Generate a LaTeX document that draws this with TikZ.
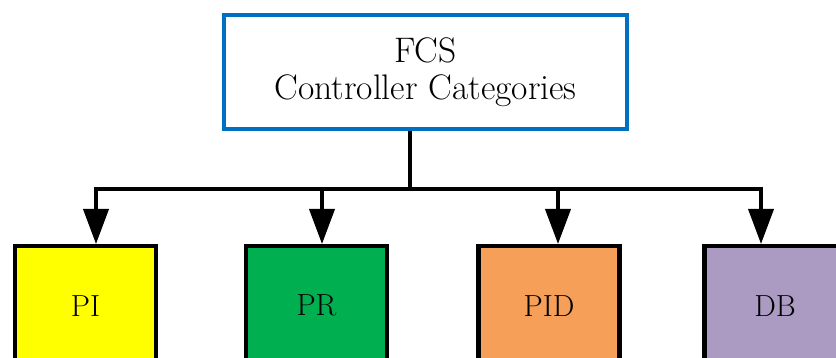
\documentclass[tikz,border=0pt]{standalone}
\usetikzlibrary{arrows.meta}
\definecolor{topblue}{HTML}{0070C0}
\definecolor{piyellow}{HTML}{FFFF00}
\definecolor{prgreen}{HTML}{00B050}
\definecolor{pidorange}{HTML}{F59F58}
\definecolor{dbpurple}{HTML}{AB9BC3}
\begin{document}
\begin{tikzpicture}[x=1pt,y=-1pt,
  topbox/.style={draw=topblue, line width=3.8pt, fill=white, minimum width=403pt, minimum height=114pt, align=center, font=\fontsize{35.5}{37}\selectfont, inner sep=0pt},
  catbox/.style={draw=black, line width=4.2pt, minimum width=141pt, minimum height=119pt, anchor=north, font=\fontsize{30.5}{32}\selectfont, inner sep=0pt},
  link/.style={line width=3.8pt},
  arr/.style={link, -{Triangle[length=35pt,width=25pt]}}]
\useasboundingbox (0,0) rectangle (836,358);
\clip (0,0) rectangle (836,358);
\fill[white] (0,0) rectangle (836,358);

\node[topbox] (top) at (425.5,72) {FCS\\Controller Categories};

\node[catbox, fill=piyellow] (pi) at (85.5,244) {PI};
\node[catbox, fill=prgreen] (pr) at (316.5,244) {PR};
\node[catbox, fill=pidorange] (pid) at (549,244) {PID};
\node[catbox, fill=dbpurple] (db) at (775,244) {DB};

\coordinate (j) at (410,189);
\coordinate (a1) at (96,189);
\coordinate (a2) at (322,189);
\coordinate (a3) at (558,189);
\coordinate (a4) at (761,189);

\draw[link] (j |- top.south) -- (j);
\draw[link, line cap=rect] (a1) -- (a4);
\draw[arr] (a1) -- (a1 |- pi.north);
\draw[arr] (a2) -- (a2 |- pr.north);
\draw[arr] (a3) -- (a3 |- pid.north);
\draw[arr] (a4) -- (a4 |- db.north);
\end{tikzpicture}
\end{document}
